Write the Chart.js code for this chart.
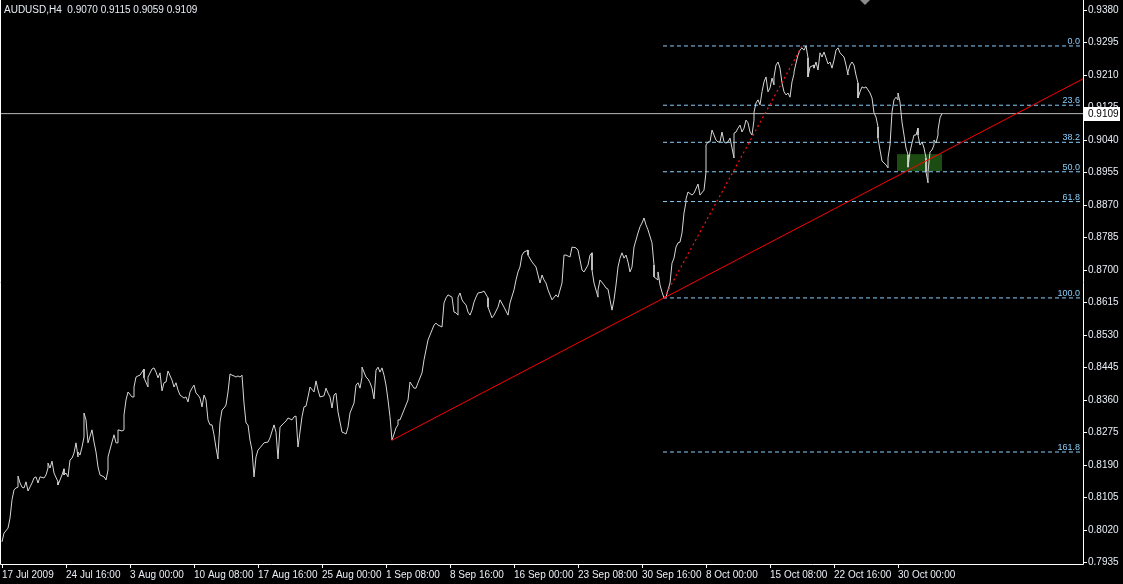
<!DOCTYPE html>
<html>
<head>
<meta charset="utf-8">
<title>AUDUSD,H4</title>
<script src="https://cdn.jsdelivr.net/npm/chart.js@4/dist/chart.umd.min.js"></script>
<style>
  html, body { margin: 0; padding: 0; background: #000; }
  canvas { display: block; }
</style>
</head>
<body>
<canvas id="chart" width="1123" height="584" style="width:1123px;height:584px"></canvas>
<script>
// AUDUSD H4 line chart, bar index along x (one H4 bar per step)

const symbol = 'AUDUSD,H4';
const ohlc = [0.9070, 0.9115, 0.9059, 0.9109];
const lastPrice = 0.9109;

const bars = [
  0,1,3,4,5,6,7,8,8,9,10,11,12,13,15,16,17,18,19,21,22,23,23,24,25,26,28,28,30,31,31,32,33,34,35,36,37,38,38,39,
  40,41,41,42,43,45,46,47,48,49,51,52,53,53,55,56,57,58,58,60,61,61,62,63,65,66,66,67,68,69,71,71,73,73,75,76,77,78,79,
  80,81,82,83,85,86,87,88,89,91,92,93,94,95,96,97,98,99,100,101,102,103,104,105,106,107,108,108,109,110,111,112,113,114,
  115,116,117,118,119,120,121,122,123,124,125,126,127,128,129,131,133,134,136,137,138,139,141,142,143,145,146,147,148,
  150,151,152,153,154,156,157,158,159,161,162,163,164,165,166,167,168,170,171,172,173,174,176,177,178,179,180,180,182,
  183,184,185,186,187,188,189,190,191,192,193,194,195,197,198,198,199,201,203,204,206,207,208,210,211,212,213,214,216,
  217,218,220,221,222,223,225,226,227,228,228,229,230,231,232,233,234,235,236,237,238,240,241,243,243,245,246,248,249,
  251,253,254,256,257,258,259,260,261,263,263,265,267,268,269,270,271,272,273,274,275,277,278,280,281,282,284,285,287,
  288,289,290,291,293,294,295,295,296,298,298,299,301,302,303,304,305,306,307,308,309,310,311,312,313,314,315,316,318,
  319,320,321,322,323,325,326,326,328,328,329,330,331,332,333,334,335,336,337,338,339,340,341,342,342,343,345,346,348,
  349,351,352,352,353,354,355,356,357,358,359,360,361,362,363,364,365,366,366,367,368,369,370,371,372,373,374,375,376,
  376,377,378,379,380,381,382,383,384,385,386,386,387,388,389,390,391,392,393,394,395,396,396,397,398,399,400,401,402,
  403,403,404,406,406,407,408,409,410,411,412,413,414,415,416,417,418,419,421,422,423,423,424,425,426,427,428,428,429,
  430,431,432,433,434,435,436,437,438,438,439,440,441,442,443,443,444,445,446,447,448,448,449,450,451,452,453,453,454,
  455,456,457,458,458,459,460,461,462,462,463,463,464,465,466,466,467,468,468,469,470
];

const closes = [
  0.7989,0.8012,0.8025,0.8051,0.8099,0.8125,0.8130,0.8132,0.8161,0.8143,0.8132,0.8130,0.8146,0.8122,0.8143,0.8156,0.8159,0.8143,0.8159,0.8156,
  0.8164,0.8182,0.8195,0.8182,0.8200,0.8169,0.8146,0.8138,0.8164,0.8180,0.8164,0.8169,0.8159,0.8203,0.8208,0.8221,0.8248,0.8211,0.8224,0.8216,
  0.8237,0.8263,0.8326,0.8308,0.8248,0.8282,0.8250,0.8224,0.8185,0.8164,0.8159,0.8151,0.8177,0.8211,0.8250,0.8269,0.8248,0.8248,0.8282,
  0.8279,0.8282,0.8321,0.8360,0.8381,0.8368,0.8368,0.8394,0.8420,0.8423,0.8425,0.8441,0.8418,0.8394,0.8420,0.8441,0.8444,0.8433,0.8418,0.8431,
  0.8384,0.8405,0.8407,0.8436,0.8412,0.8394,0.8405,0.8386,0.8373,0.8365,0.8368,0.8355,0.8381,0.8391,0.8399,0.8378,0.8373,0.8365,0.8342,0.8373,
  0.8360,0.8308,0.8295,0.8295,0.8269,0.8235,0.8206,0.8216,0.8302,0.8334,0.8339,0.8347,0.8381,0.8428,
  0.8425,0.8423,0.8420,0.8423,0.8420,0.8425,0.8352,0.8300,0.8295,0.8255,0.8229,0.8159,0.8211,0.8229,0.8235,0.8248,0.8250,0.8261,0.8295,0.8276,
  0.8206,0.8289,0.8300,0.8305,0.8313,0.8308,0.8316,0.8318,0.8237,
  0.8316,0.8342,0.8344,0.8368,0.8394,0.8381,0.8410,0.8386,0.8368,0.8371,0.8391,0.8378,0.8368,0.8339,0.8373,0.8378,0.8329,0.8276,0.8274,0.8271,
  0.8289,0.8326,0.8352,0.8399,0.8405,0.8391,0.8420,0.8446,0.8420,
  0.8415,0.8405,0.8391,0.8363,0.8438,0.8446,0.8433,0.8444,0.8425,0.8399,0.8360,0.8316,0.8255,0.8287,0.8295,0.8308,0.8308,0.8334,0.8360,0.8407,
  0.8391,0.8391,0.8405,0.8431,0.8465,0.8491,0.8517,0.8530,0.8556,
  0.8561,0.8556,0.8551,0.8614,0.8627,0.8635,0.8629,0.8590,0.8588,0.8582,0.8629,0.8640,0.8622,0.8614,0.8609,0.8590,0.8582,0.8595,0.8616,0.8629,
  0.8640,0.8642,0.8645,0.8627,0.8603,0.8575,0.8582,0.8603,0.8622,
  0.8603,0.8582,0.8614,0.8648,0.8674,0.8695,0.8708,0.8739,0.8747,0.8752,0.8739,0.8721,0.8708,0.8687,0.8666,0.8687,0.8674,0.8666,0.8648,0.8635,
  0.8622,0.8635,0.8629,0.8666,0.8739,0.8739,0.8734,0.8760,0.8758,
  0.8752,0.8726,0.8700,0.8695,0.8713,0.8739,0.8745,0.8700,0.8666,0.8629,0.8648,0.8674,0.8661,0.8653,0.8650,0.8622,0.8595,0.8622,0.8661,0.8708,
  0.8731,0.8745,0.8731,0.8739,0.8721,0.8695,0.8708,0.8760,0.8797,
  0.8813,0.8823,0.8836,0.8818,0.8805,0.8771,0.8713,0.8682,0.8674,0.8695,0.8661,0.8642,0.8627,0.8629,0.8648,0.8666,0.8718,0.8731,0.8760,0.8771,
  0.8773,0.8797,0.8849,0.8878,0.8886,0.8904,0.8896,0.8901,0.8925,
  0.8896,0.8909,0.8956,0.9027,0.9035,0.9035,0.9066,0.9053,0.9040,0.9035,0.9035,0.9061,0.9035,0.9032,0.9035,0.9045,0.9019,0.8993,0.9058,0.9061,
  0.9071,0.9079,0.9061,0.9071,0.9092,0.9085,0.9061,0.9053,0.9092,
  0.9113,0.9137,0.9145,0.9132,0.9166,0.9192,0.9205,0.9166,0.9176,0.9202,0.9184,0.9205,0.9236,0.9244,0.9228,0.9189,0.9166,0.9158,0.9163,0.9152,
  0.9192,0.9213,0.9218,0.9241,0.9262,0.9275,0.9281,0.9275,0.9286,
  0.9255,0.9205,0.9231,0.9236,0.9228,0.9244,0.9223,0.9268,0.9257,0.9270,0.9255,0.9239,0.9244,0.9228,0.9249,0.9275,0.9281,0.9268,0.9257,0.9236,
  0.9210,0.9218,0.9236,0.9244,0.9236,0.9210,0.9189,0.9150,0.9166,
  0.9179,0.9176,0.9179,0.9171,0.9163,0.9150,0.9111,0.9100,0.9074,0.9045,0.9014,0.8985,0.8980,0.8975,0.8967,0.8993,0.9027,0.9113,0.9145,0.9152,
  0.9145,0.9163,0.9139,0.9087,0.9053,0.9019,0.9001,0.8969,0.9009,
  0.9032,0.9053,0.9053,0.9071,0.9053,0.9027,0.9035,0.9019,0.8993,0.8956,0.8928,0.8956,0.9009,0.9014,0.9027,0.9040,0.9032,0.9053,0.9066,0.9098,0.9109
];

// axis ticks
const yTicks = [0.9380,0.9295,0.9210,0.9125,0.9040,0.8955,0.8870,0.8785,0.8700,0.8615,0.8530,0.8445,0.8360,0.8275,0.8190,0.8105,0.8020,0.7935];
const xTickBars = [0,32,64,96,128,160,192,224,256,288,320,352,384,416,448];
const xTickLabels = ['17 Jul 2009','24 Jul 16:00','3 Aug 00:00','10 Aug 08:00','17 Aug 16:00','25 Aug 00:00','1 Sep 08:00',
  '8 Sep 16:00','16 Sep 00:00','23 Sep 08:00','30 Sep 16:00','8 Oct 00:00','15 Oct 08:00','22 Oct 16:00','30 Oct 00:00'];

// drawn objects
const fibLabels = ['0.0','23.6','38.2','50.0','61.8','100.0','161.8'];
const fibPrices = [0.9286,0.9131,0.9034,0.8957,0.8879,0.8627,0.8224];
const fibBars = [330.5, 541];
const trendBars = [195, 540.5];
const trendPrices = [0.8255, 0.9200];
const swingBars = [331, 400];
const swingPrices = [0.8627, 0.9286];
const zoneBars = [447.5, 470];
const zonePrices = [0.9003, 0.8959];

const FONT = 'Tahoma, "Liberation Sans", Arial, sans-serif';
const FG = '#e9eef5';

const datasets = [];
fibPrices.forEach(p => {
  datasets.push({
    data: fibBars.map(b => ({ x: b, y: p })),
    borderColor: '#87cefa', borderWidth: 1, borderDash: [4, 3],
    pointRadius: 0, order: 5
  });
});
datasets.push({
  data: [{ x: -1, y: lastPrice }, { x: 541, y: lastPrice }],
  borderColor: '#b8b8b8', borderWidth: 1, pointRadius: 0, order: 4
});
datasets.push({
  data: bars.map((b, i) => ({ x: b, y: closes[i] })),
  borderColor: '#d6d6d6', borderWidth: 1, pointRadius: 0, tension: 0, order: 3
});
datasets.push({
  data: trendBars.map((b, i) => ({ x: b, y: trendPrices[i] })),
  borderColor: '#ff0000', borderWidth: 1, pointRadius: 0, order: 1
});
datasets.push({
  data: swingBars.map((b, i) => ({ x: b, y: swingPrices[i] })),
  borderColor: '#ff1010', borderWidth: 1.2, borderDash: [2, 3], pointRadius: 0, order: 1
});

const overlay = {
  id: 'overlay',
  beforeDatasetsDraw(chart) {
    const { ctx, scales: { x, y } } = chart;
    // green rectangle
    const x0 = x.getPixelForValue(zoneBars[0]), x1 = x.getPixelForValue(zoneBars[1]);
    const y0 = y.getPixelForValue(zonePrices[0]), y1 = y.getPixelForValue(zonePrices[1]);
    ctx.save();
    ctx.fillStyle = '#1d4c13';
    ctx.fillRect(x0, y0, x1 - x0, y1 - y0);
    ctx.restore();
  },
  afterDraw(chart) {
    const { ctx, chartArea: a, scales: { y } } = chart;
    ctx.save();
    // frame
    ctx.strokeStyle = '#ffffff';
    ctx.lineWidth = 1;
    ctx.beginPath();
    ctx.moveTo(a.left + 0.5, a.top);
    ctx.lineTo(a.left + 0.5, a.bottom + 0.5);
    ctx.lineTo(a.right + 0.5, a.bottom + 0.5);
    ctx.lineTo(a.right + 0.5, a.top);
    ctx.stroke();

    // fibo level labels
    ctx.font = '9px ' + FONT;
    ctx.fillStyle = '#87cefa';
    ctx.textAlign = 'right';
    ctx.textBaseline = 'alphabetic';
    fibPrices.forEach((p, i) => {
      ctx.fillText(fibLabels[i], a.right - 3, Math.round(y.getPixelForValue(p)) - 2);
    });

    // bid price box
    const py = Math.round(y.getPixelForValue(lastPrice));
    ctx.fillStyle = '#ffffff';
    ctx.fillRect(a.right + 1, py - 7, 36, 14);
    ctx.fillStyle = '#000000';
    ctx.font = '10px ' + FONT;
    ctx.textAlign = 'left';
    ctx.textBaseline = 'middle';
    ctx.fillText(lastPrice.toFixed(4), a.right + 5, py);

    // title
    ctx.fillStyle = FG;
    ctx.textBaseline = 'alphabetic';
    ctx.fillText(symbol + '  ' + ohlc.map(v => v.toFixed(4)).join(' '), 4, 13);

    // chart shift marker
    ctx.fillStyle = '#8c8c8c';
    ctx.beginPath();
    ctx.moveTo(860, 0);
    ctx.lineTo(870, 0);
    ctx.lineTo(865, 5);
    ctx.closePath();
    ctx.fill();
    ctx.restore();
  }
};

new Chart(document.getElementById('chart').getContext('2d'), {
  type: 'line',
  data: { datasets },
  options: {
    responsive: false,
    animation: false,
    devicePixelRatio: 1,
    layout: { padding: 0 },
    plugins: { legend: { display: false }, tooltip: { enabled: false } },
    scales: {
      x: {
        type: 'linear', min: -1, max: 540.5,
        afterBuildTicks: s => { s.ticks = xTickBars.map(v => ({ value: v })); },
        afterFit: s => { s.height = 20; s.paddingLeft = 0; s.paddingRight = 0; },
        ticks: {
          color: FG, font: { family: FONT, size: 10 },
          align: 'start', maxRotation: 0, autoSkip: false, padding: 1,
          callback: (v, i) => xTickLabels[i]
        },
        grid: { drawOnChartArea: false, color: '#ffffff', tickLength: 4 },
        border: { display: false }
      },
      y: {
        position: 'right', min: 0.79311, max: 0.94062,
        afterBuildTicks: s => { s.ticks = yTicks.map(v => ({ value: v })); },
        afterFit: s => { s.width = 40; s.paddingTop = 0; s.paddingBottom = 0; },
        ticks: {
          color: FG, font: { family: FONT, size: 10 }, padding: 1,
          callback: v => Number(v).toFixed(4)
        },
        grid: { drawOnChartArea: false, color: '#ffffff', tickLength: 4 },
        border: { display: false }
      }
    }
  },
  plugins: [overlay]
});
</script>
</body>
</html>
